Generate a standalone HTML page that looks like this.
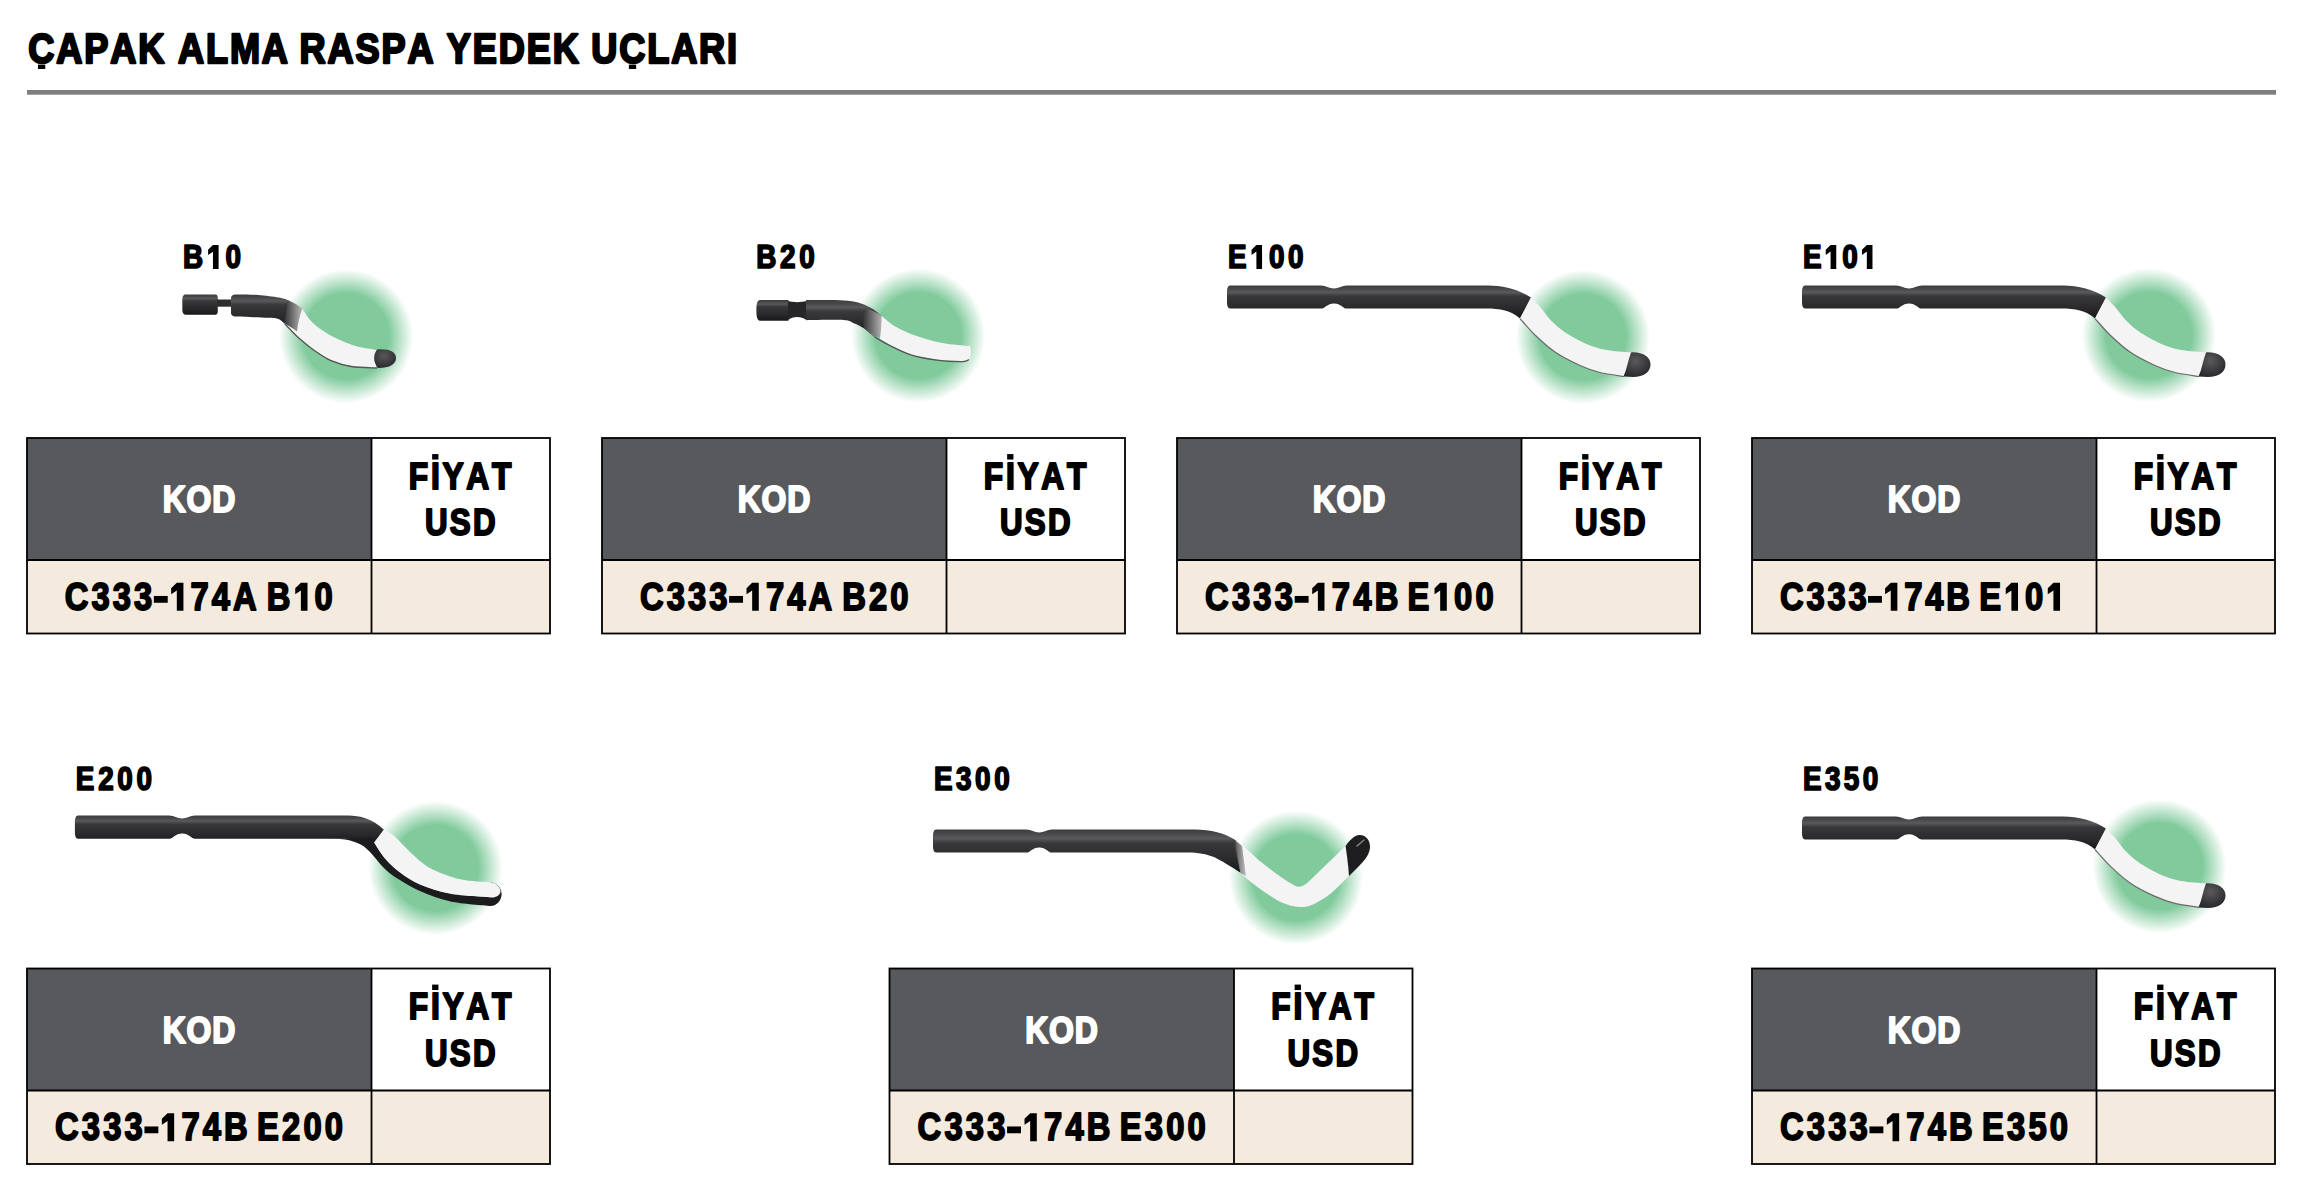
<!DOCTYPE html>
<html><head><meta charset="utf-8"><style>
html,body{margin:0;padding:0;background:#fff;width:2316px;height:1196px;overflow:hidden}
svg{display:block;font-family:"Liberation Sans",sans-serif;font-weight:bold;font-kerning:none;font-variant-ligatures:none}
</style></head><body>
<svg width="2316" height="1196" viewBox="0 0 2316 1196">
<defs>
<radialGradient id="glow" cx="0.5" cy="0.5" r="0.5">
<stop offset="0" stop-color="#80ca9c"/>
<stop offset="0.64" stop-color="#80ca9c"/>
<stop offset="0.8" stop-color="#80ca9c" stop-opacity="0.55"/>
<stop offset="1" stop-color="#80ca9c" stop-opacity="0"/>
</radialGradient>
<radialGradient id="tipg" cx="0.45" cy="0.35" r="0.7">
<stop offset="0" stop-color="#5a5a5c"/>
<stop offset="1" stop-color="#262628"/>
</radialGradient>
<linearGradient id="metalg" x1="0" y1="0" x2="1" y2="0">
<stop offset="0" stop-color="#333"/>
<stop offset="1" stop-color="#bbb"/>
</linearGradient>
<linearGradient id="steel" x1="0" y1="0" x2="0" y2="1">
<stop offset="0" stop-color="#3c3c3e"/>
<stop offset="0.1" stop-color="#48484a"/>
<stop offset="0.2" stop-color="#5a5a5c"/>
<stop offset="0.32" stop-color="#38383a"/>
<stop offset="0.7" stop-color="#29292b"/>
<stop offset="1" stop-color="#18181a"/>
</linearGradient>
</defs>
<text transform="translate(0,63.40) scale(0.86,1)" x="32.93 65.45 97.98 128.18 160.70 206.95 239.48 267.32 304.50 348.27 380.79 413.32 443.52 473.73 519.59 549.79 580.00 612.52 642.73 687.50 720.02 752.55 780.39 812.92 845.44" font-size="42.01" fill="#000" stroke="#000" stroke-width="2.4" stroke-linejoin="round">CAPAKALMARASPAYEDEKUCLARI</text><rect x="37.96" y="64.60" width="7.29" height="4.38" fill="#000"/><rect x="628.87" y="64.60" width="7.29" height="4.38" fill="#000"/>
<rect x="27" y="90" width="2249" height="4.7" fill="#7f7f7f"/>
<rect x="27" y="438" width="344.5" height="122" fill="#58595d"/>
<rect x="371.5" y="438" width="178.5" height="122" fill="#fff"/>
<rect x="27" y="560" width="523" height="73.5" fill="#f4eadd"/>
<rect x="27" y="438" width="523" height="195.5" fill="none" stroke="#000" stroke-width="1.8"/>
<line x1="27" y1="560" x2="550" y2="560" stroke="#000" stroke-width="1.8"/>
<line x1="371.5" y1="438" x2="371.5" y2="633.5" stroke="#000" stroke-width="1.8"/>
<text transform="translate(0,512.40) scale(0.86,1)" x="189.14 216.98 246.90" font-size="37.21" fill="#fff" stroke="#fff" stroke-width="2.0" stroke-linejoin="round">KOD</text>
<text transform="translate(0,488.70) scale(0.86,1)" x="475.32 501.03 514.44 542.22 572.03" font-size="36.92" fill="#000" stroke="#000" stroke-width="2.0" stroke-linejoin="round">FIYAT</text><rect x="432.15" y="454.08" width="6.29" height="5.48" fill="#000"/>
<text transform="translate(0,535.20) scale(0.86,1)" x="494.10 523.08 550.05" font-size="36.34" fill="#000" stroke="#000" stroke-width="2.0" stroke-linejoin="round">USD</text>
<text transform="translate(0,609.90) scale(0.86,1)" x="75.41 106.46 131.18 155.90 221.57 246.29 271.02 310.08 365.85" font-size="38.08" fill="#000" stroke="#000" stroke-width="1.8" stroke-linejoin="round">C33374AB0</text><rect x="153.83" y="595.96" width="13.89" height="6.80" fill="#000"/><path d="M176.82,582.80 L183.43,582.80 L183.43,610.80 L176.82,610.80 L176.82,590.50 L171.16,594.36 L171.16,588.29 Z" fill="#000"/><path d="M300.89,582.80 L307.50,582.80 L307.50,610.80 L300.89,610.80 L300.89,590.50 L295.24,594.36 L295.24,588.29 Z" fill="#000"/>
<rect x="602" y="438" width="344.5" height="122" fill="#58595d"/>
<rect x="946.5" y="438" width="178.5" height="122" fill="#fff"/>
<rect x="602" y="560" width="523" height="73.5" fill="#f4eadd"/>
<rect x="602" y="438" width="523" height="195.5" fill="none" stroke="#000" stroke-width="1.8"/>
<line x1="602" y1="560" x2="1125" y2="560" stroke="#000" stroke-width="1.8"/>
<line x1="946.5" y1="438" x2="946.5" y2="633.5" stroke="#000" stroke-width="1.8"/>
<text transform="translate(0,512.40) scale(0.86,1)" x="857.74 885.59 915.50" font-size="37.21" fill="#fff" stroke="#fff" stroke-width="2.0" stroke-linejoin="round">KOD</text>
<text transform="translate(0,488.70) scale(0.86,1)" x="1143.93 1169.63 1183.04 1210.82 1240.64" font-size="36.92" fill="#000" stroke="#000" stroke-width="2.0" stroke-linejoin="round">FIYAT</text><rect x="1007.15" y="454.08" width="6.29" height="5.48" fill="#000"/>
<text transform="translate(0,535.20) scale(0.86,1)" x="1162.70 1191.68 1218.66" font-size="36.34" fill="#000" stroke="#000" stroke-width="2.0" stroke-linejoin="round">USD</text>
<text transform="translate(0,609.90) scale(0.86,1)" x="744.14 775.24 800.02 824.80 890.64 915.42 940.20 979.27 1010.37 1035.15" font-size="38.08" fill="#000" stroke="#000" stroke-width="1.8" stroke-linejoin="round">C33374AB20</text><rect x="729.13" y="595.96" width="13.89" height="6.80" fill="#000"/><path d="M752.17,582.80 L758.78,582.80 L758.78,610.80 L752.17,610.80 L752.17,590.50 L746.51,594.36 L746.51,588.29 Z" fill="#000"/>
<rect x="1177" y="438" width="344.5" height="122" fill="#58595d"/>
<rect x="1521.5" y="438" width="178.5" height="122" fill="#fff"/>
<rect x="1177" y="560" width="523" height="73.5" fill="#f4eadd"/>
<rect x="1177" y="438" width="523" height="195.5" fill="none" stroke="#000" stroke-width="1.8"/>
<line x1="1177" y1="560" x2="1700" y2="560" stroke="#000" stroke-width="1.8"/>
<line x1="1521.5" y1="438" x2="1521.5" y2="633.5" stroke="#000" stroke-width="1.8"/>
<text transform="translate(0,512.40) scale(0.86,1)" x="1526.35 1554.19 1584.11" font-size="37.21" fill="#fff" stroke="#fff" stroke-width="2.0" stroke-linejoin="round">KOD</text>
<text transform="translate(0,488.70) scale(0.86,1)" x="1812.53 1838.24 1851.65 1879.42 1909.24" font-size="36.92" fill="#000" stroke="#000" stroke-width="2.0" stroke-linejoin="round">FIYAT</text><rect x="1582.15" y="454.08" width="6.29" height="5.48" fill="#000"/>
<text transform="translate(0,535.20) scale(0.86,1)" x="1831.31 1860.29 1887.26" font-size="36.34" fill="#000" stroke="#000" stroke-width="2.0" stroke-linejoin="round">USD</text>
<text transform="translate(0,609.90) scale(0.86,1)" x="1401.23 1432.47 1457.39 1482.31 1548.57 1573.49 1598.41 1636.75 1690.81 1715.73" font-size="38.08" fill="#000" stroke="#000" stroke-width="1.8" stroke-linejoin="round">C33374BE00</text><rect x="1294.71" y="595.96" width="13.89" height="6.80" fill="#000"/><path d="M1317.87,582.80 L1324.48,582.80 L1324.48,610.80 L1317.87,610.80 L1317.87,590.50 L1312.21,594.36 L1312.21,588.29 Z" fill="#000"/><path d="M1440.19,582.80 L1446.80,582.80 L1446.80,610.80 L1440.19,610.80 L1440.19,590.50 L1434.54,594.36 L1434.54,588.29 Z" fill="#000"/>
<rect x="1752" y="438" width="344.5" height="122" fill="#58595d"/>
<rect x="2096.5" y="438" width="178.5" height="122" fill="#fff"/>
<rect x="1752" y="560" width="523" height="73.5" fill="#f4eadd"/>
<rect x="1752" y="438" width="523" height="195.5" fill="none" stroke="#000" stroke-width="1.8"/>
<line x1="1752" y1="560" x2="2275" y2="560" stroke="#000" stroke-width="1.8"/>
<line x1="2096.5" y1="438" x2="2096.5" y2="633.5" stroke="#000" stroke-width="1.8"/>
<text transform="translate(0,512.40) scale(0.86,1)" x="2194.95 2222.80 2252.71" font-size="37.21" fill="#fff" stroke="#fff" stroke-width="2.0" stroke-linejoin="round">KOD</text>
<text transform="translate(0,488.70) scale(0.86,1)" x="2481.13 2506.84 2520.25 2548.03 2577.84" font-size="36.92" fill="#000" stroke="#000" stroke-width="2.0" stroke-linejoin="round">FIYAT</text><rect x="2157.15" y="454.08" width="6.29" height="5.48" fill="#000"/>
<text transform="translate(0,535.20) scale(0.86,1)" x="2499.91 2528.89 2555.87" font-size="36.34" fill="#000" stroke="#000" stroke-width="2.0" stroke-linejoin="round">USD</text>
<text transform="translate(0,609.90) scale(0.86,1)" x="2069.83 2100.59 2125.02 2149.45 2214.24 2238.67 2263.10 2301.44 2354.52" font-size="38.08" fill="#000" stroke="#000" stroke-width="1.8" stroke-linejoin="round">C33374BE0</text><rect x="1868.03" y="595.96" width="13.89" height="6.80" fill="#000"/><path d="M1890.76,582.80 L1897.37,582.80 L1897.37,610.80 L1890.76,610.80 L1890.76,590.50 L1885.11,594.36 L1885.11,588.29 Z" fill="#000"/><path d="M2011.40,582.80 L2018.01,582.80 L2018.01,610.80 L2011.40,610.80 L2011.40,590.50 L2005.75,594.36 L2005.75,588.29 Z" fill="#000"/><path d="M2053.42,582.80 L2060.03,582.80 L2060.03,610.80 L2053.42,610.80 L2053.42,590.50 L2047.77,594.36 L2047.77,588.29 Z" fill="#000"/>
<rect x="27" y="968.5" width="344.5" height="122" fill="#58595d"/>
<rect x="371.5" y="968.5" width="178.5" height="122" fill="#fff"/>
<rect x="27" y="1090.5" width="523" height="73.5" fill="#f4eadd"/>
<rect x="27" y="968.5" width="523" height="195.5" fill="none" stroke="#000" stroke-width="1.8"/>
<line x1="27" y1="1090.5" x2="550" y2="1090.5" stroke="#000" stroke-width="1.8"/>
<line x1="371.5" y1="968.5" x2="371.5" y2="1164.0" stroke="#000" stroke-width="1.8"/>
<text transform="translate(0,1042.90) scale(0.86,1)" x="189.14 216.98 246.90" font-size="37.21" fill="#fff" stroke="#fff" stroke-width="2.0" stroke-linejoin="round">KOD</text>
<text transform="translate(0,1019.20) scale(0.86,1)" x="475.32 501.03 514.44 542.22 572.03" font-size="36.92" fill="#000" stroke="#000" stroke-width="2.0" stroke-linejoin="round">FIYAT</text><rect x="432.15" y="984.58" width="6.29" height="5.48" fill="#000"/>
<text transform="translate(0,1065.70) scale(0.86,1)" x="494.10 523.08 550.05" font-size="36.34" fill="#000" stroke="#000" stroke-width="2.0" stroke-linejoin="round">USD</text>
<text transform="translate(0,1140.40) scale(0.86,1)" x="64.02 95.19 120.03 144.88 210.92 235.76 260.61 298.95 328.02 352.86 377.71" font-size="38.08" fill="#000" stroke="#000" stroke-width="1.8" stroke-linejoin="round">C33374BE200</text><rect x="144.46" y="1126.46" width="13.89" height="6.80" fill="#000"/><path d="M167.55,1113.30 L174.16,1113.30 L174.16,1141.30 L167.55,1141.30 L167.55,1121.00 L161.89,1124.86 L161.89,1118.79 Z" fill="#000"/>
<rect x="889.5" y="968.5" width="344.5" height="122" fill="#58595d"/>
<rect x="1234.0" y="968.5" width="178.5" height="122" fill="#fff"/>
<rect x="889.5" y="1090.5" width="523" height="73.5" fill="#f4eadd"/>
<rect x="889.5" y="968.5" width="523" height="195.5" fill="none" stroke="#000" stroke-width="1.8"/>
<line x1="889.5" y1="1090.5" x2="1412.5" y2="1090.5" stroke="#000" stroke-width="1.8"/>
<line x1="1234.0" y1="968.5" x2="1234.0" y2="1164.0" stroke="#000" stroke-width="1.8"/>
<text transform="translate(0,1042.90) scale(0.86,1)" x="1192.05 1219.89 1249.81" font-size="37.21" fill="#fff" stroke="#fff" stroke-width="2.0" stroke-linejoin="round">KOD</text>
<text transform="translate(0,1019.20) scale(0.86,1)" x="1478.23 1503.93 1517.34 1545.12 1574.94" font-size="36.92" fill="#000" stroke="#000" stroke-width="2.0" stroke-linejoin="round">FIYAT</text><rect x="1294.65" y="984.58" width="6.29" height="5.48" fill="#000"/>
<text transform="translate(0,1065.70) scale(0.86,1)" x="1497.00 1525.98 1552.96" font-size="36.34" fill="#000" stroke="#000" stroke-width="2.0" stroke-linejoin="round">USD</text>
<text transform="translate(0,1140.40) scale(0.86,1)" x="1066.93 1098.13 1123.00 1147.88 1214.01 1238.89 1263.77 1302.11 1331.21 1356.09 1380.96" font-size="38.08" fill="#000" stroke="#000" stroke-width="1.8" stroke-linejoin="round">C33374BE300</text><rect x="1007.07" y="1126.46" width="13.89" height="6.80" fill="#000"/><path d="M1030.19,1113.30 L1036.79,1113.30 L1036.79,1141.30 L1030.19,1141.30 L1030.19,1121.00 L1024.53,1124.86 L1024.53,1118.79 Z" fill="#000"/>
<rect x="1752" y="968.5" width="344.5" height="122" fill="#58595d"/>
<rect x="2096.5" y="968.5" width="178.5" height="122" fill="#fff"/>
<rect x="1752" y="1090.5" width="523" height="73.5" fill="#f4eadd"/>
<rect x="1752" y="968.5" width="523" height="195.5" fill="none" stroke="#000" stroke-width="1.8"/>
<line x1="1752" y1="1090.5" x2="2275" y2="1090.5" stroke="#000" stroke-width="1.8"/>
<line x1="2096.5" y1="968.5" x2="2096.5" y2="1164.0" stroke="#000" stroke-width="1.8"/>
<text transform="translate(0,1042.90) scale(0.86,1)" x="2194.95 2222.80 2252.71" font-size="37.21" fill="#fff" stroke="#fff" stroke-width="2.0" stroke-linejoin="round">KOD</text>
<text transform="translate(0,1019.20) scale(0.86,1)" x="2481.13 2506.84 2520.25 2548.03 2577.84" font-size="36.92" fill="#000" stroke="#000" stroke-width="2.0" stroke-linejoin="round">FIYAT</text><rect x="2157.15" y="984.58" width="6.29" height="5.48" fill="#000"/>
<text transform="translate(0,1065.70) scale(0.86,1)" x="2499.91 2528.89 2555.87" font-size="36.34" fill="#000" stroke="#000" stroke-width="2.0" stroke-linejoin="round">USD</text>
<text transform="translate(0,1140.40) scale(0.86,1)" x="2069.83 2101.00 2125.85 2150.69 2216.73 2241.58 2266.42 2304.76 2333.83 2358.68 2383.52" font-size="38.08" fill="#000" stroke="#000" stroke-width="1.8" stroke-linejoin="round">C33374BE350</text><rect x="1869.46" y="1126.46" width="13.89" height="6.80" fill="#000"/><path d="M1892.55,1113.30 L1899.16,1113.30 L1899.16,1141.30 L1892.55,1141.30 L1892.55,1121.00 L1886.89,1124.86 L1886.89,1118.79 Z" fill="#000"/>
<text transform="translate(0,268.20) scale(0.86,1)" x="212.77 262.20" font-size="32.41" fill="#000" stroke="#000" stroke-width="1.7" stroke-linejoin="round">B0</text><path d="M212.95,245.05 L218.61,245.05 L218.61,269.05 L212.95,269.05 L212.95,251.65 L208.10,254.96 L208.10,249.75 Z" fill="#000"/>
<text transform="translate(0,268.20) scale(0.86,1)" x="879.40 907.09 929.41" font-size="32.41" fill="#000" stroke="#000" stroke-width="1.7" stroke-linejoin="round">B20</text>
<text transform="translate(0,268.15) scale(0.86,1)" x="1427.77 1475.64 1497.78" font-size="32.41" fill="#000" stroke="#000" stroke-width="1.7" stroke-linejoin="round">E00</text><path d="M1256.41,245.00 L1262.07,245.00 L1262.07,269.00 L1256.41,269.00 L1256.41,251.60 L1251.56,254.91 L1251.56,249.70 Z" fill="#000"/>
<text transform="translate(0,268.15) scale(0.86,1)" x="2096.49 2142.22" font-size="32.41" fill="#000" stroke="#000" stroke-width="1.7" stroke-linejoin="round">E0</text><path d="M1830.58,245.00 L1836.25,245.00 L1836.25,269.00 L1830.58,269.00 L1830.58,251.60 L1825.74,254.91 L1825.74,249.70 Z" fill="#000"/><path d="M1866.82,245.00 L1872.48,245.00 L1872.48,269.00 L1866.82,269.00 L1866.82,251.60 L1861.97,254.91 L1861.97,249.70 Z" fill="#000"/>
<text transform="translate(0,790.45) scale(0.86,1)" x="88.24 114.16 136.49 158.83" font-size="32.41" fill="#000" stroke="#000" stroke-width="1.7" stroke-linejoin="round">E200</text>
<text transform="translate(0,790.45) scale(0.86,1)" x="1085.91 1111.68 1133.86 1156.04" font-size="32.41" fill="#000" stroke="#000" stroke-width="1.7" stroke-linejoin="round">E300</text>
<text transform="translate(0,790.45) scale(0.86,1)" x="2096.49 2122.07 2144.05 2166.04" font-size="32.41" fill="#000" stroke="#000" stroke-width="1.7" stroke-linejoin="round">E350</text>
<circle cx="346.2" cy="336.2" r="67" fill="url(#glow)"/>
<circle cx="918.3" cy="335.6" r="67" fill="url(#glow)"/>
<circle cx="1583" cy="337" r="67" fill="url(#glow)"/>
<circle cx="2149" cy="335.2" r="67" fill="url(#glow)"/>
<circle cx="435.5" cy="868" r="67" fill="url(#glow)"/>
<circle cx="1296" cy="877.5" r="67" fill="url(#glow)"/>
<circle cx="2159.6" cy="866.3" r="67" fill="url(#glow)"/>
<g><path d="M1230,285.6 L1321,285.6 C1326,285.6 1329,288.6 1334,288.6 C1339,288.6 1342,285.6 1347,285.6 L1488,285.6 C1503,285.6 1519,289.6 1531,297.6 L1520,318.6 C1511,310.6 1500,308.6 1486,308.6 L1347,308.6 C1343,308.6 1341,303.40000000000003 1334,303.40000000000003 C1327,303.40000000000003 1325,308.6 1321,308.6 L1230,308.6 C1228,308.6 1227,305.6 1227,302.6 L1227,291.6 C1227,288.6 1228,285.6 1230,285.6 Z" fill="url(#steel)"/><path d="M1531.00,297.60 C1532.67,299.33 1537.67,304.18 1541.00,308.00 C1544.33,311.82 1546.83,316.33 1551.00,320.50 C1555.17,324.67 1559.50,328.83 1566.00,333.00 C1572.50,337.17 1582.67,342.58 1590.00,345.50 C1597.33,348.42 1603.00,349.33 1610.00,350.50 C1617.00,351.67 1628.33,352.17 1632.00,352.50 L1624.00,376.50 C1620.00,375.83 1607.33,374.33 1600.00,372.50 C1592.67,370.67 1587.50,368.92 1580.00,365.50 C1572.50,362.08 1562.50,357.08 1555.00,352.00 C1547.50,346.92 1540.83,340.57 1535.00,335.00 C1529.17,329.43 1522.50,321.33 1520.00,318.60 Z" fill="#f4f4f4"/><path d="M1624.00,376.50 C1620.00,375.83 1607.33,374.33 1600.00,372.50 C1592.67,370.67 1587.50,368.92 1580.00,365.50 C1572.50,362.08 1562.50,357.08 1555.00,352.00 C1547.50,346.92 1540.83,340.57 1535.00,335.00 C1529.17,329.43 1522.50,321.33 1520.00,318.60 " fill="none" stroke="#6a6a6a" stroke-width="1.2"/><path d="M1631,352.4 C1643,351.8 1650.5,357 1650.5,364.5 C1650.5,372 1644,377 1633,377 L1623.5,376.5 C1627,369 1628,360 1631,352.4 Z" fill="url(#tipg)"/></g>
<g transform="translate(575,0)"><path d="M1230,285.6 L1321,285.6 C1326,285.6 1329,288.6 1334,288.6 C1339,288.6 1342,285.6 1347,285.6 L1488,285.6 C1503,285.6 1519,289.6 1531,297.6 L1520,318.6 C1511,310.6 1500,308.6 1486,308.6 L1347,308.6 C1343,308.6 1341,303.40000000000003 1334,303.40000000000003 C1327,303.40000000000003 1325,308.6 1321,308.6 L1230,308.6 C1228,308.6 1227,305.6 1227,302.6 L1227,291.6 C1227,288.6 1228,285.6 1230,285.6 Z" fill="url(#steel)"/><path d="M1531.00,297.60 C1532.67,299.33 1537.67,304.18 1541.00,308.00 C1544.33,311.82 1546.83,316.33 1551.00,320.50 C1555.17,324.67 1559.50,328.83 1566.00,333.00 C1572.50,337.17 1582.67,342.58 1590.00,345.50 C1597.33,348.42 1603.00,349.33 1610.00,350.50 C1617.00,351.67 1628.33,352.17 1632.00,352.50 L1624.00,376.50 C1620.00,375.83 1607.33,374.33 1600.00,372.50 C1592.67,370.67 1587.50,368.92 1580.00,365.50 C1572.50,362.08 1562.50,357.08 1555.00,352.00 C1547.50,346.92 1540.83,340.57 1535.00,335.00 C1529.17,329.43 1522.50,321.33 1520.00,318.60 Z" fill="#f4f4f4"/><path d="M1624.00,376.50 C1620.00,375.83 1607.33,374.33 1600.00,372.50 C1592.67,370.67 1587.50,368.92 1580.00,365.50 C1572.50,362.08 1562.50,357.08 1555.00,352.00 C1547.50,346.92 1540.83,340.57 1535.00,335.00 C1529.17,329.43 1522.50,321.33 1520.00,318.60 " fill="none" stroke="#6a6a6a" stroke-width="1.2"/><path d="M1631,352.4 C1643,351.8 1650.5,357 1650.5,364.5 C1650.5,372 1644,377 1633,377 L1623.5,376.5 C1627,369 1628,360 1631,352.4 Z" fill="url(#tipg)"/></g>
<g transform="translate(575,530.9)"><path d="M1230,285.6 L1321,285.6 C1326,285.6 1329,288.6 1334,288.6 C1339,288.6 1342,285.6 1347,285.6 L1488,285.6 C1503,285.6 1519,289.6 1531,297.6 L1520,318.6 C1511,310.6 1500,308.6 1486,308.6 L1347,308.6 C1343,308.6 1341,303.40000000000003 1334,303.40000000000003 C1327,303.40000000000003 1325,308.6 1321,308.6 L1230,308.6 C1228,308.6 1227,305.6 1227,302.6 L1227,291.6 C1227,288.6 1228,285.6 1230,285.6 Z" fill="url(#steel)"/><path d="M1531.00,297.60 C1532.67,299.33 1537.67,304.18 1541.00,308.00 C1544.33,311.82 1546.83,316.33 1551.00,320.50 C1555.17,324.67 1559.50,328.83 1566.00,333.00 C1572.50,337.17 1582.67,342.58 1590.00,345.50 C1597.33,348.42 1603.00,349.33 1610.00,350.50 C1617.00,351.67 1628.33,352.17 1632.00,352.50 L1624.00,376.50 C1620.00,375.83 1607.33,374.33 1600.00,372.50 C1592.67,370.67 1587.50,368.92 1580.00,365.50 C1572.50,362.08 1562.50,357.08 1555.00,352.00 C1547.50,346.92 1540.83,340.57 1535.00,335.00 C1529.17,329.43 1522.50,321.33 1520.00,318.60 Z" fill="#f4f4f4"/><path d="M1624.00,376.50 C1620.00,375.83 1607.33,374.33 1600.00,372.50 C1592.67,370.67 1587.50,368.92 1580.00,365.50 C1572.50,362.08 1562.50,357.08 1555.00,352.00 C1547.50,346.92 1540.83,340.57 1535.00,335.00 C1529.17,329.43 1522.50,321.33 1520.00,318.60 " fill="none" stroke="#6a6a6a" stroke-width="1.2"/><path d="M1631,352.4 C1643,351.8 1650.5,357 1650.5,364.5 C1650.5,372 1644,377 1633,377 L1623.5,376.5 C1627,369 1628,360 1631,352.4 Z" fill="url(#tipg)"/></g>
<g><path d="M185.5,294.5 L215.5,294.5 C217,294.5 217.8,296 217.8,298 L217.8,311 C217.8,313 217,314.7 215.5,314.7 L185.5,314.7 C183.3,314.7 182.3,312.5 182.3,309.5 L182.3,299.5 C182.3,296.5 183.3,294.5 185.5,294.5 Z" fill="url(#steel)"/><rect x="217" y="299.5" width="15" height="7.2" fill="#2e2e30"/><path d="M231,298 C231,296 233,294.5 235,294.5 C238.83,294.58 250.73,294.48 258.00,295.00 C265.27,295.52 273.43,296.65 278.60,297.60 C283.77,298.55 285.10,298.88 289.00,300.70 C292.90,302.52 299.83,307.20 302.00,308.50 L296.00,327.00 C294.13,326.42 287.70,324.83 284.80,323.50 C281.90,322.17 281.40,319.95 278.60,319.00 C275.80,318.05 275.27,318.22 268.00,317.80 C260.73,317.38 240.50,316.72 235.00,316.50 C233,316.5 231,315 231,313 Z" fill="url(#steel)"/><path d="M289.00,300.70 C290.17,301.25 293.83,302.70 296.00,304.00 C298.17,305.30 299.72,305.93 302.00,308.50 C304.28,311.07 306.70,316.03 309.70,319.40 C312.70,322.77 315.68,325.60 320.00,328.70 C324.32,331.80 329.55,335.07 335.60,338.00 C341.65,340.93 349.32,344.30 356.30,346.30 C363.28,348.30 373.97,349.38 377.50,350.00 L376.00,367.80 C371.87,367.50 358.80,367.33 351.20,366.00 C343.60,364.67 336.43,362.38 330.40,359.80 C324.37,357.22 320.17,354.13 315.00,350.50 C309.83,346.87 303.57,341.58 299.40,338.00 C295.23,334.42 292.43,331.42 290.00,329.00 C287.57,326.58 285.67,324.42 284.80,323.50 Z" fill="#f4f4f4"/><path d="M288,300.2 C294,303 299,305.5 302.5,308.5 C300,315 298,322 297,331.5 C293,328.5 289,326 284.3,323.3 Z" fill="url(#metalg)"/><path d="M284.80,323.80 C285.67,324.72 287.57,326.85 290.00,329.30 C292.43,331.75 295.23,334.88 299.40,338.50 C303.57,342.12 309.83,347.37 315.00,351.00 C320.17,354.63 324.37,357.72 330.40,360.30 C336.43,362.88 343.43,365.22 351.20,366.50 C358.97,367.78 372.70,367.75 377.00,368.00 " fill="none" stroke="#555" stroke-width="1.3"/><path d="M377,349.5 C389,348.5 396,352 396,358 C396,364 390,368 378,368 C373,362 373,355 377,349.5 Z" fill="url(#tipg)"/></g>
<g><path d="M760,300 L788.5,300 L788.5,320.8 L760,320.8 C757.5,320.8 756.4,317 756.4,312 L756.4,308.5 C756.4,303.5 757.5,300 760,300 Z" fill="url(#steel)"/><path d="M788,301 C793,302.5 801,302.5 806.5,301 L806.5,320 C801,316 793,316 788,320 Z" fill="#262628"/><path d="M806.00,300.00 C810.00,300.00 823.00,299.87 830.00,300.00 C837.00,300.13 842.83,300.22 848.00,300.80 C853.17,301.38 857.00,302.22 861.00,303.50 C865.00,304.78 868.53,306.42 872.00,308.50 C875.47,310.58 880.17,314.75 881.80,316.00 L874.50,336.80 C872.78,335.42 867.65,330.75 864.20,328.50 C860.75,326.25 857.27,324.72 853.80,323.30 C850.33,321.88 851.37,320.52 843.40,320.00 C835.43,319.48 812.23,320.17 806.00,320.20 Z" fill="url(#steel)"/><path d="M866,308 C872,310 878,313 881.8,316 C884,320 882,330 881,338 C878,337 876,337 874.5,336.8 C868,332 865,329 864,328 C862,322 863,313 866,308 Z" fill="url(#metalg)"/><path d="M881.80,316.00 C884.05,317.75 889.60,323.20 895.30,326.50 C901.00,329.80 908.23,333.05 916.00,335.80 C923.77,338.55 932.92,341.28 941.90,343.00 C950.88,344.72 965.23,345.58 969.90,346.10 C971,348 971.5,356 969,359.5 C967,361 965,361.3 962.6,361.2 C958.28,360.93 945.33,360.73 936.70,359.60 C928.07,358.47 918.58,356.82 910.80,354.40 C903.02,351.98 895.13,347.67 890.00,345.10 C884.87,342.53 881.67,340.02 880.00,339.00 L881,330 Z" fill="#f4f4f4"/><path d="M874.50,337.00 C877.08,338.43 883.95,342.62 890.00,345.60 C896.05,348.58 903.02,352.48 910.80,354.90 C918.58,357.32 928.07,358.98 936.70,360.10 C945.33,361.22 957.22,361.70 962.60,361.60 C967.98,361.50 967.93,359.85 969.00,359.50 " fill="none" stroke="#555" stroke-width="1.3"/></g>
<g><path d="M77.9,815.6 L169.2,815.6 C174.2,815.6 177.14999999999998,818.6 182.14999999999998,818.6 C187.14999999999998,818.6 190.1,815.6 195.1,815.6 L348,815.6 C360,815.6 372,818.5 384.2,830 L374.2,842.5 C366,841 356,838.8 340,838.8 L195.1,838.8 C191.1,838.8 189.14999999999998,833.5999999999999 182.14999999999998,833.5999999999999 C175.14999999999998,833.5999999999999 173.2,838.8 169.2,838.8 L77.9,838.8 C75.9,838.8 74.9,835.8 74.9,832.8 L74.9,821.6 C74.9,818.6 75.9,815.6 77.9,815.6 Z" fill="url(#steel)"/><path d="M325.00,838.80 C328.33,838.92 339.15,838.60 345.00,839.50 C350.85,840.40 355.90,842.08 360.10,844.20 C364.30,846.32 366.02,848.03 370.20,852.20 C374.38,856.37 380.18,864.52 385.20,869.20 C390.22,873.88 394.43,876.62 400.30,880.30 C406.17,883.98 412.03,887.78 420.40,891.30 C428.77,894.82 438.80,898.95 450.50,901.40 C462.20,903.85 483.92,905.23 490.60,906.00 C497,906 501.6,900 501.6,894 C501.6,888 497,883 490.6,882.3 L490.60,897.00 C483.92,896.42 462.20,895.58 450.50,893.50 C438.80,891.42 428.77,888.00 420.40,884.50 C412.03,881.00 406.17,876.83 400.30,872.50 C394.43,868.17 389.55,863.50 385.20,858.50 C380.85,853.50 376.40,845.92 374.20,842.50 C372.00,839.08 372.37,838.75 372.00,838.00 Z" fill="#1c1c1e"/><path d="M384.20,829.10 C386.05,830.43 390.95,833.25 395.30,837.10 C399.65,840.95 404.45,847.02 410.30,852.20 C416.15,857.38 422.03,863.68 430.40,868.20 C438.77,872.72 450.47,876.95 460.50,879.30 C470.53,881.65 485.58,881.80 490.60,882.30 C496,883 500.5,887 500.5,891.5 C500.5,895 496,898 490.6,897.5 C483.92,896.88 462.20,895.92 450.50,893.80 C438.80,891.68 428.77,888.30 420.40,884.80 C412.03,881.30 406.17,877.13 400.30,872.80 C394.43,868.47 389.55,863.83 385.20,858.80 C380.85,853.77 376.03,845.30 374.20,842.60 Z" fill="#f4f4f4"/></g>
<g><path d="M936,829.5 L1026.3,829.5 C1031.3,829.5 1034.1999999999998,832.5 1039.1999999999998,832.5 C1044.1999999999998,832.5 1047.1,829.5 1052.1,829.5 L1195,829.5 C1210,829.5 1225,833 1237,841 L1241,873 C1230,866 1222,861 1215,857.5 C1206,854 1198,852.6 1188,852.6 L1052.1,852.6 C1048.1,852.6 1046.1999999999998,847.4 1039.1999999999998,847.4 C1032.1999999999998,847.4 1030.3,852.6 1026.3,852.6 L936,852.6 C934,852.6 933,849.6 933,846.6 L933,835.5 C933,832.5 934,829.5 936,829.5 Z" fill="url(#steel)"/><path d="M1235.5,840 C1245,847 1251,853 1258,859.5 C1272,871 1284,880 1295.4,886 C1299,888 1304,886 1308,882.3 L1345.6,846 L1349,876 C1340,885 1333,892 1326.8,896.5 C1318,902 1312,906 1304,907 C1298,907.5 1290,906.5 1276.6,900 C1262,891 1250,882 1240.5,873 Z" fill="#f4f4f4"/><path d="M1233,839 C1236,841 1239,843.5 1242,846 L1246,876 C1244,875 1242,874 1240.5,873 Z" fill="url(#metalg)" opacity="0.9"/><path d="M1345.6,846 C1350,840 1354,835.5 1359.5,835 C1365,834.8 1370,839.5 1370,846.5 C1370,853 1366,859 1360,865 L1349,876 C1348.5,866 1347,856 1345.6,846 Z" fill="#1e1e20"/><path d="M1357,846 L1364,840" stroke="#888" stroke-width="1.5" stroke-linecap="round"/></g>
</svg>
</body></html>
